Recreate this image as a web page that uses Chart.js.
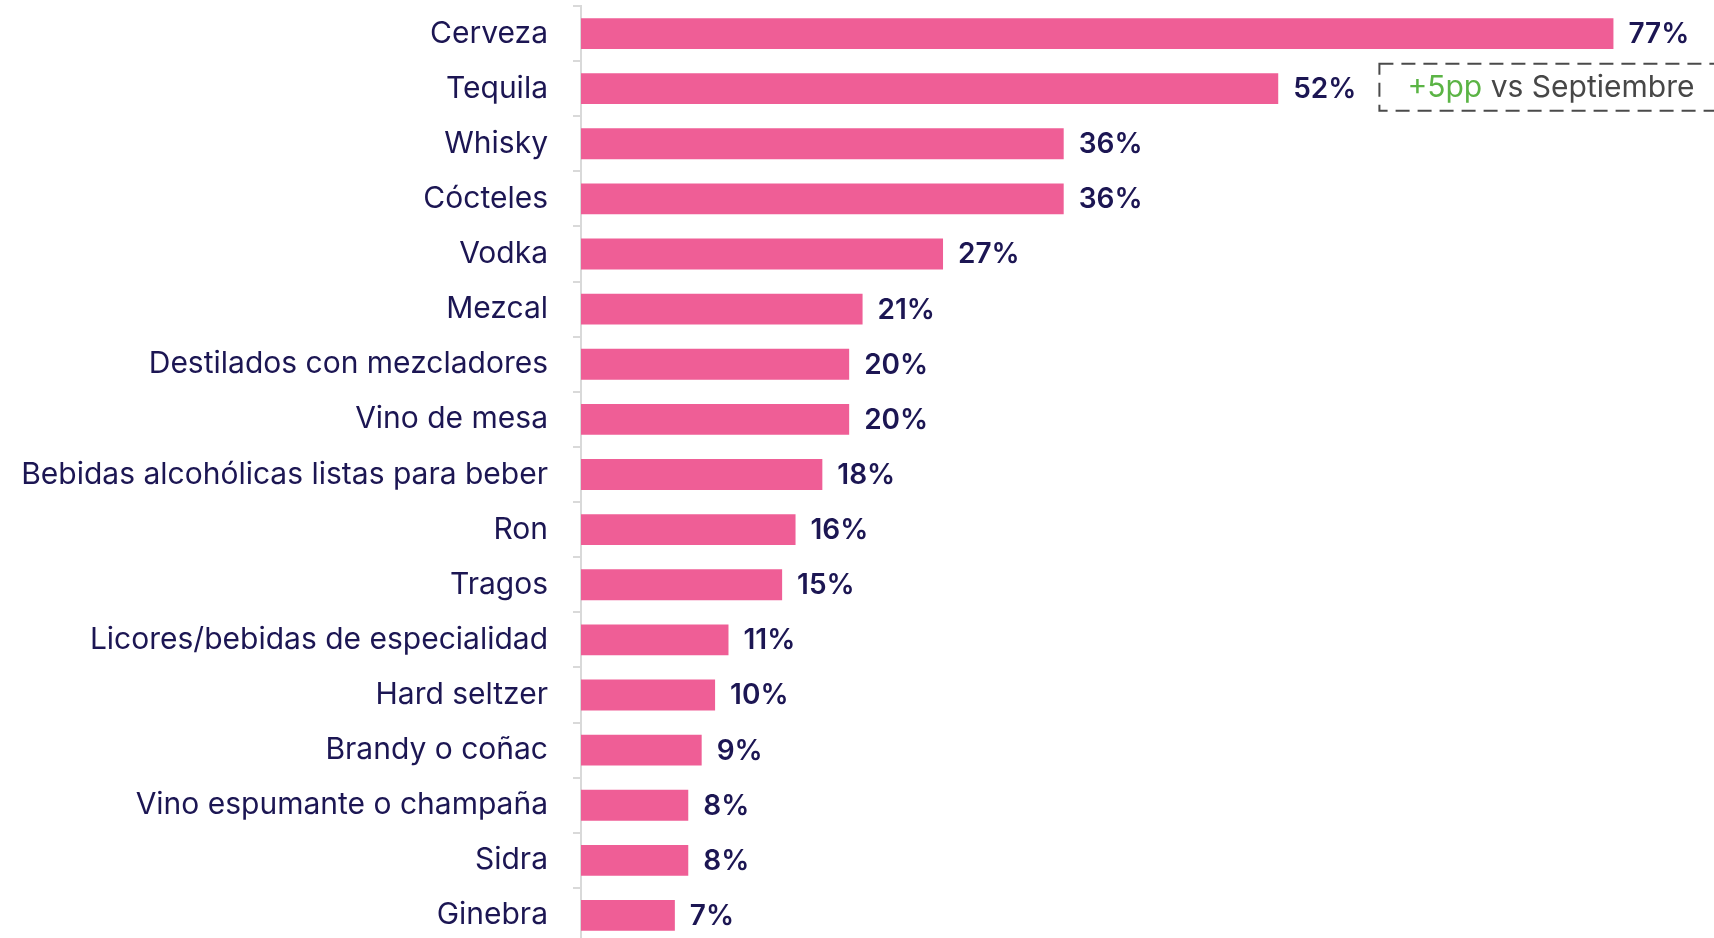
<!DOCTYPE html>
<html lang="es">
<head>
<meta charset="utf-8">
<title>Bebidas alcohólicas consumidas</title>
<script src="https://cdn.jsdelivr.net/npm/chart.js@4"></script>
<style>
  html, body { margin: 0; padding: 0; background: #fff; overflow: hidden; }
  canvas { display: block; }
</style>
</head>
<body>
<canvas id="drinksChart" width="1714" height="943"></canvas>
<script>
const categories = [
  "Cerveza", "Tequila", "Whisky", "Cócteles", "Vodka", "Mezcal",
  "Destilados con mezcladores", "Vino de mesa",
  "Bebidas alcohólicas listas para beber", "Ron", "Tragos",
  "Licores/bebidas de especialidad", "Hard seltzer", "Brandy o coñac",
  "Vino espumante o champaña", "Sidra", "Ginebra"
];
const shares = [77, 52, 36, 36, 27, 21, 20, 20, 18, 16, 15, 11, 10, 9, 8, 8, 7];
const callout = { category: "Tequila", change: "+5pp", text: " vs Septiembre" };

const NAVY = "#1c1653";
const PINK = "#ef5e96";
const FONT = "Inter, 'Noto Sans', sans-serif";

// percentage next to each bar, plus the dashed note beside Tequila
const valueLabels = {
  id: "valueLabels",
  afterDatasetsDraw(chart) {
    const ctx = chart.ctx;
    const bars = chart.getDatasetMeta(0).data;
    ctx.save();
    ctx.font = "600 28px " + FONT;
    ctx.fillStyle = NAVY;
    ctx.textAlign = "left";
    ctx.textBaseline = "middle";
    bars.forEach((bar, i) => {
      ctx.fillText(shares[i] + "%", bar.x + 15, bar.y + 1);
    });

    const idx = categories.indexOf(callout.category);
    const bar = bars[idx];
    const labelW = ctx.measureText(shares[idx] + "%").width;
    const left = bar.x + 15 + labelW + 23;
    const top = bar.y - 25, h = 47;
    ctx.setLineDash([14, 8]);
    ctx.lineWidth = 2;
    ctx.strokeStyle = "#4a4a4a";
    ctx.strokeRect(left, top, chart.width - left + 20, h);
    ctx.setLineDash([]);
    ctx.font = "400 30px " + FONT;
    ctx.fillStyle = "#5bb445";
    const tx = left + 28;
    ctx.fillText(callout.change, tx, top + h / 2 + 1);
    ctx.fillStyle = "#474747";
    ctx.fillText(callout.text, tx + ctx.measureText(callout.change).width, top + h / 2 + 1);
    ctx.restore();
  }
};

new Chart(document.getElementById("drinksChart"), {
  type: "bar",
  data: {
    labels: categories,
    datasets: [{
      data: shares,
      backgroundColor: PINK,
      borderWidth: 0,
      categoryPercentage: 1,
      barPercentage: 0.56
    }]
  },
  options: {
    indexAxis: "y",
    responsive: false,
    animation: false,
    layout: { padding: { top: 6, right: 0, bottom: 0, left: 0 } },
    plugins: {
      legend: { display: false },
      tooltip: { enabled: false }
    },
    scales: {
      x: {
        display: false,
        min: 0,
        max: 84.5
      },
      y: {
        afterFit(scale) {
          scale.width = 581;
          scale.paddingTop = 0;
          scale.paddingBottom = 0;
        },
        border: { color: "#d9d9d9", width: 2 },
        grid: {
          drawOnChartArea: false,
          drawTicks: true,
          tickLength: 8,
          color: "#d9d9d9",
          lineWidth: 2,
          offset: true
        },
        ticks: {
          color: NAVY,
          padding: 25,
          font: { family: FONT, size: 30, weight: "400" }
        }
      }
    }
  },
  plugins: [valueLabels]
});
</script>
</body>
</html>
